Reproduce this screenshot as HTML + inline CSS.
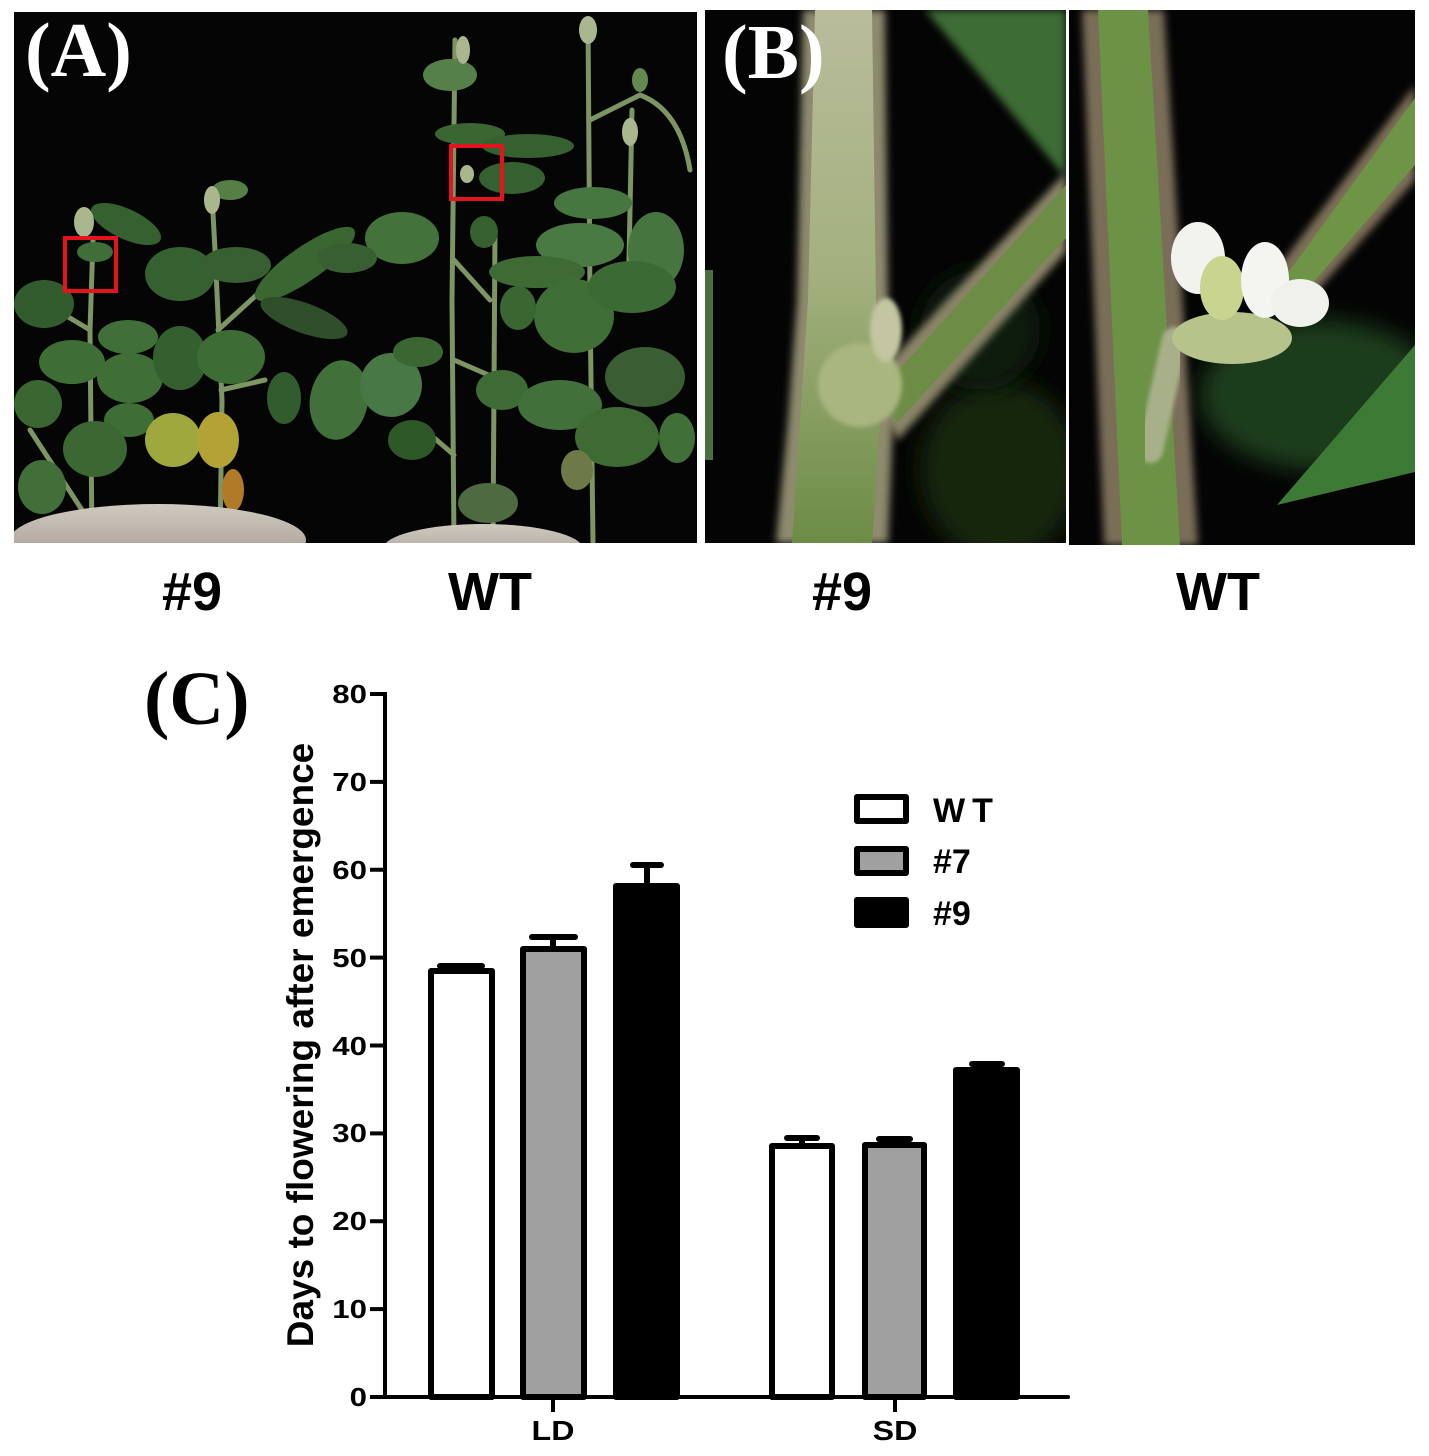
<!DOCTYPE html>
<html><head><meta charset="utf-8"><style>
html,body{margin:0;padding:0;background:#fff;width:1429px;height:1456px;overflow:hidden}
svg{display:block}
text{font-family:"Liberation Sans",Arial,sans-serif;font-weight:bold}
.serif{font-family:"Liberation Serif","Times New Roman",serif;font-weight:bold}
</style></head><body>
<svg width="1429" height="1456" viewBox="0 0 1429 1456" xmlns="http://www.w3.org/2000/svg">
<defs>
<filter id="b1" x="-20%" y="-20%" width="140%" height="140%"><feGaussianBlur stdDeviation="1"/></filter>
<filter id="b2" x="-20%" y="-20%" width="140%" height="140%"><feGaussianBlur stdDeviation="2"/></filter>
<filter id="b4" x="-20%" y="-20%" width="140%" height="140%"><feGaussianBlur stdDeviation="4"/></filter>
<filter id="b12" x="-50%" y="-50%" width="200%" height="200%"><feGaussianBlur stdDeviation="12"/></filter>
<clipPath id="ca"><rect x="14" y="12" width="683" height="531"/></clipPath>
<clipPath id="cb1"><rect x="705" y="10" width="361" height="533"/></clipPath>
<clipPath id="cb2"><rect x="1069" y="10" width="346" height="535"/></clipPath>
<linearGradient id="stemL" x1="0" y1="0" x2="0" y2="1">
<stop offset="0" stop-color="#b9bc9c"/><stop offset="0.5" stop-color="#a3b07e"/><stop offset="1" stop-color="#6c8c45"/>
</linearGradient>
<linearGradient id="pot" x1="0" y1="0" x2="0" y2="1">
<stop offset="0" stop-color="#d0c9c0"/><stop offset="1" stop-color="#9d948a"/>
</linearGradient>
</defs>
<rect width="1429" height="1456" fill="#fff"/>

<!-- ===== Panel A ===== -->
<rect x="14" y="12" width="683" height="531" fill="#050505"/>
<g clip-path="url(#ca)">
<g stroke="#7d9463" stroke-width="5" fill="none" stroke-linecap="round">
<path d="M92 543 L90 330 L93 240"/>
<path d="M90 330 L40 300"/>
<path d="M30 430 L95 530"/>
<path d="M220 543 L222 400 L215 250 L212 195"/>
<path d="M218 330 L262 290"/>
<path d="M221 390 L265 380"/>
<path d="M454 543 L452 300 L455 40"/>
<path d="M454 360 L500 380"/>
<path d="M454 260 L490 300"/>
<path d="M493 543 L495 230"/>
<path d="M593 543 L590 300 L588 20"/>
<path d="M628 310 L632 110"/>
<path d="M590 120 L640 95 Q680 110 690 170"/>
<path d="M425 430 L454 455"/>
</g>
<g fill="#3e6b34">
<!-- left plant -->
<ellipse cx="126" cy="224" rx="38" ry="15" transform="rotate(25 126 224)" fill="#35602f"/>
<ellipse cx="95" cy="252" rx="18" ry="10" fill="#3f6e38"/>
<ellipse cx="180" cy="274" rx="35" ry="27" fill="#35602f"/>
<ellipse cx="236" cy="265" rx="35" ry="18" fill="#385f31"/>
<ellipse cx="305" cy="264" rx="60" ry="17" transform="rotate(-35 305 264)" fill="#3a6632"/>
<ellipse cx="304" cy="318" rx="46" ry="15" transform="rotate(20 304 318)" fill="#2f4f2b"/>
<ellipse cx="44" cy="304" rx="30" ry="24" fill="#335c2e"/>
<ellipse cx="72" cy="362" rx="33" ry="22" fill="#3e6d36"/>
<ellipse cx="128" cy="337" rx="30" ry="17" fill="#416f39"/>
<ellipse cx="130" cy="378" rx="33" ry="25" fill="#3f6e36"/>
<ellipse cx="180" cy="358" rx="27" ry="32" fill="#34602f"/>
<ellipse cx="231" cy="357" rx="34" ry="27" fill="#3d6c35"/>
<ellipse cx="38" cy="404" rx="24" ry="24" fill="#3a6632"/>
<ellipse cx="129" cy="420" rx="25" ry="17" fill="#3e6d36"/>
<ellipse cx="95" cy="449" rx="32" ry="28" fill="#3b6733"/>
<ellipse cx="42" cy="487" rx="24" ry="27" fill="#416e39"/>
<ellipse cx="284" cy="398" rx="17" ry="26" fill="#335c2e"/>
<!-- right plant -->
<ellipse cx="339" cy="400" rx="29" ry="40" fill="#42703a" transform="rotate(10 339 400)"/>
<ellipse cx="391" cy="385" rx="31" ry="32" fill="#477845"/>
<ellipse cx="418" cy="352" rx="25" ry="15" fill="#3a6632"/>
<ellipse cx="402" cy="238" rx="37" ry="26" fill="#43723a"/>
<ellipse cx="347" cy="258" rx="30" ry="15" fill="#385f31"/>
<ellipse cx="484" cy="232" rx="14" ry="16" fill="#36602f"/>
<ellipse cx="593" cy="203" rx="39" ry="16" fill="#477740"/>
<ellipse cx="656" cy="250" rx="28" ry="38" fill="#467540"/>
<ellipse cx="580" cy="245" rx="44" ry="22" fill="#4a7a43"/>
<ellipse cx="537" cy="272" rx="48" ry="16" fill="#3e6b34"/>
<ellipse cx="574" cy="316" rx="40" ry="37" fill="#406e37"/>
<ellipse cx="632" cy="287" rx="44" ry="26" fill="#3c6a34"/>
<ellipse cx="518" cy="308" rx="18" ry="22" fill="#3a6632"/>
<ellipse cx="502" cy="390" rx="26" ry="20" fill="#3d6a35"/>
<ellipse cx="560" cy="405" rx="42" ry="25" fill="#42703a"/>
<ellipse cx="617" cy="437" rx="42" ry="30" fill="#3e6b34"/>
<ellipse cx="645" cy="377" rx="40" ry="30" fill="#3a5d34"/>
<ellipse cx="677" cy="438" rx="18" ry="25" fill="#416f38"/>
<ellipse cx="412" cy="440" rx="24" ry="20" fill="#2f5829"/>
<ellipse cx="488" cy="503" rx="30" ry="20" fill="#4d6a40"/>
<ellipse cx="577" cy="470" rx="16" ry="20" fill="#6d7a48"/>
<ellipse cx="450" cy="75" rx="27" ry="16" fill="#55804a"/>
<ellipse cx="470" cy="134" rx="35" ry="11" fill="#3a6632"/>
<ellipse cx="528" cy="146" rx="46" ry="12" fill="#35602f"/>
<ellipse cx="512" cy="178" rx="33" ry="16" fill="#35602f"/>
<ellipse cx="640" cy="80" rx="8" ry="12" fill="#66894f"/>
<ellipse cx="230" cy="190" rx="18" ry="10" fill="#557f45"/>
</g>
<g fill="#aab78e">
<ellipse cx="84" cy="222" rx="10" ry="15"/>
<ellipse cx="463" cy="50" rx="7" ry="14"/>
<ellipse cx="588" cy="30" rx="9" ry="14"/>
<ellipse cx="630" cy="132" rx="8" ry="14"/>
<ellipse cx="212" cy="200" rx="8" ry="14"/>
<ellipse cx="467" cy="174" rx="7" ry="9"/>
</g>
<ellipse cx="173" cy="440" rx="28" ry="27" fill="#9ea83c"/>
<ellipse cx="218" cy="440" rx="21" ry="28" fill="#b3a334"/>
<ellipse cx="233" cy="490" rx="11" ry="21" fill="#b07a28"/>
<ellipse cx="158" cy="540" rx="148" ry="36" fill="url(#pot)"/>
<ellipse cx="483" cy="549" rx="100" ry="25" fill="url(#pot)"/>
<rect x="65" y="238" width="51" height="53" fill="none" stroke="#e3141b" stroke-width="4"/>
<rect x="451" y="146" width="51" height="53" fill="none" stroke="#e3141b" stroke-width="4"/>
<text class="serif" x="25" y="76" font-size="77" fill="#fff">(A)</text>
</g>

<!-- ===== Panel B left ===== -->
<rect x="705" y="10" width="361" height="533" fill="#040404"/>
<g clip-path="url(#cb1)">
<polygon points="925,10 1066,10 1066,178" fill="#3c6c34" filter="url(#b4)"/>
<ellipse cx="1000" cy="470" rx="80" ry="90" fill="#15260f" filter="url(#b12)"/>
<ellipse cx="980" cy="330" rx="60" ry="60" fill="#101c0c" filter="url(#b12)"/>
<rect x="705" y="270" width="8" height="190" fill="#4a7040"/>
<polygon points="868,385 1066,172 1066,252 898,440" fill="#8a8468" filter="url(#b4)"/>
<polygon points="876,395 1066,185 1066,238 895,425" fill="#6d8d47"/>
<polygon points="803,10 885,10 888,300 893,420 888,543 776,543 788,420 797,300" fill="#8e8a6e" filter="url(#b4)"/>
<polygon points="815,10 872,10 876,300 880,420 872,543 792,543 800,420 808,300" fill="url(#stemL)"/>
<ellipse cx="860" cy="385" rx="42" ry="42" fill="#a9b67f" filter="url(#b2)"/>
<ellipse cx="886" cy="330" rx="16" ry="32" fill="#c3c6a0" filter="url(#b2)"/>
<text class="serif" x="722" y="78" font-size="77" fill="#fff">(B)</text>
</g>

<!-- ===== Panel B right ===== -->
<rect x="1069" y="10" width="346" height="535" fill="#040404"/>
<g clip-path="url(#cb2)">
<ellipse cx="1320" cy="395" rx="120" ry="75" fill="#1f3c1c" filter="url(#b12)"/>
<polygon points="1277,505 1415,345 1415,472" fill="#3c7a36"/>
<polygon points="1275,272 1415,85 1415,180 1300,310" fill="#7d6f58" filter="url(#b4)"/>
<polygon points="1283,280 1415,98 1415,165 1298,300" fill="#6e9446"/>
<polygon points="1082,10 1164,10 1198,545 1104,545" fill="#7a6e58" filter="url(#b4)"/>
<polygon points="1098,10 1148,10 1180,545 1122,545" fill="#6c9246"/>
<path d="M1175 340 L1150 450" stroke="#a8b08a" stroke-width="26" stroke-linecap="round" filter="url(#b2)"/>
<ellipse cx="1232" cy="338" rx="60" ry="26" fill="#b6c38a"/>
<ellipse cx="1198" cy="258" rx="27" ry="36" fill="#f2f2ee"/>
<ellipse cx="1222" cy="288" rx="22" ry="32" fill="#c9d58f"/>
<ellipse cx="1265" cy="280" rx="24" ry="38" fill="#f4f4f0"/>
<ellipse cx="1300" cy="303" rx="29" ry="24" fill="#f0f0ec"/>
</g>

<!-- ===== Labels under photos ===== -->
<g font-size="54" text-anchor="middle" fill="#000">
<text x="192" y="610">#9</text>
<text x="490" y="610">WT</text>
<text x="842" y="610">#9</text>
<text x="1218" y="610">WT</text>
</g>

<!-- ===== Panel C chart ===== -->
<text class="serif" x="144" y="724" font-size="76" fill="#000">(C)</text>

<!-- axes -->
<line x1="385" y1="692" x2="385" y2="1399" stroke="#000" stroke-width="4"/>
<line x1="383" y1="1397" x2="1068" y2="1397" stroke="#000" stroke-width="4" stroke-linecap="round"/>
<g stroke="#000" stroke-width="4">
<line x1="370" y1="694" x2="385" y2="694"/>
<line x1="370" y1="781.9" x2="385" y2="781.9"/>
<line x1="370" y1="869.75" x2="385" y2="869.75"/>
<line x1="370" y1="957.6" x2="385" y2="957.6"/>
<line x1="370" y1="1045.5" x2="385" y2="1045.5"/>
<line x1="370" y1="1133.4" x2="385" y2="1133.4"/>
<line x1="370" y1="1221.25" x2="385" y2="1221.25"/>
<line x1="370" y1="1309.1" x2="385" y2="1309.1"/>
<line x1="370" y1="1397" x2="385" y2="1397"/>
<line x1="553" y1="1397" x2="553" y2="1412"/>
<line x1="895" y1="1397" x2="895" y2="1412"/>
</g>
<g font-size="26" text-anchor="end" fill="#000">
<text transform="translate(367 703) scale(1.2 1)">80</text>
<text transform="translate(367 791) scale(1.2 1)">70</text>
<text transform="translate(367 879) scale(1.2 1)">60</text>
<text transform="translate(367 967) scale(1.2 1)">50</text>
<text transform="translate(367 1055) scale(1.2 1)">40</text>
<text transform="translate(367 1142) scale(1.2 1)">30</text>
<text transform="translate(367 1230) scale(1.2 1)">20</text>
<text transform="translate(367 1318) scale(1.2 1)">10</text>
<text transform="translate(367 1406) scale(1.2 1)">0</text>
</g>
<text transform="translate(313 1045) rotate(-90)" font-size="37" text-anchor="middle" fill="#000">Days to flowering after emergence</text>
<g font-size="28" text-anchor="middle" fill="#000">
<text transform="translate(553 1440) scale(1.15 1)">LD</text>
<text transform="translate(895 1440) scale(1.15 1)">SD</text>
</g>

<!-- error bars -->
<g stroke="#000" stroke-width="6" stroke-linecap="round">
<line x1="461" y1="966" x2="461" y2="970"/><line x1="440" y1="966" x2="482" y2="966"/>
<line x1="553" y1="937" x2="553" y2="948"/><line x1="532" y1="937" x2="575" y2="937"/>
<line x1="647" y1="865" x2="647" y2="885"/><line x1="633" y1="865" x2="661" y2="865"/>
<line x1="802" y1="1138" x2="802" y2="1145"/><line x1="787" y1="1138" x2="817" y2="1138"/>
<line x1="894" y1="1139" x2="894" y2="1144"/><line x1="879" y1="1139" x2="910" y2="1139"/>
<line x1="987" y1="1064" x2="987" y2="1069"/><line x1="972" y1="1064" x2="1002" y2="1064"/>
</g>

<!-- bars -->
<g stroke="#000" stroke-width="6" stroke-linejoin="round">
<rect x="431" y="971" width="61" height="426" fill="#fff"/>
<rect x="523" y="949" width="61" height="448" fill="#a0a0a0"/>
<rect x="616" y="886" width="61" height="511" fill="#000"/>
<rect x="772" y="1146" width="60" height="251" fill="#fff"/>
<rect x="865" y="1145" width="59" height="252" fill="#a0a0a0"/>
<rect x="956" y="1070" width="61" height="327" fill="#000"/>
</g>

<!-- legend -->
<g stroke="#000" stroke-width="6" stroke-linejoin="round">
<rect x="857" y="797" width="49" height="24" fill="#fff"/>
<rect x="857" y="849" width="49" height="24" fill="#a0a0a0"/>
<rect x="857" y="900" width="49" height="25" fill="#000"/>
</g>
<g font-size="34" fill="#000">
<text x="933" y="822" letter-spacing="7">WT</text>
<text x="933" y="873">#7</text>
<text x="933" y="925">#9</text>
</g>
</svg>
</body></html>
